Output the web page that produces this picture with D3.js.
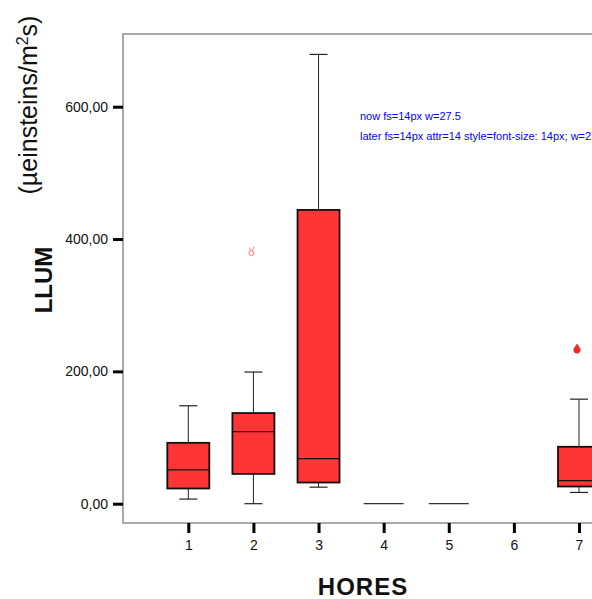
<!DOCTYPE html>
<html>
<head>
<meta charset="utf-8">
<script src="https://cdn.jsdelivr.net/npm/d3@7"></script>
<style>
  html, body { margin: 0; padding: 0; background: #fff; }
  svg { display: block; font-family: Arial, "Liberation Sans", sans-serif; }
</style>
</head>
<body>
<div id="chart"></div>
<script>
// box plot stats per hour
const hours = [1, 2, 3, 4, 5, 6, 7];
const whiskerLow = [7, 0, 25, 0, 0, null, 17];
const q1 = [23, 45, 32, 0, 0, null, 26];
const median = [51, 109, 68, 0, 0, null, 35];
const q3 = [92, 137, 444, 0, 0, null, 86];
const whiskerHigh = [148, 199, 679, 0, 0, null, 158];

const outlierHours = [2, 7];
const outlierValues = [381, 236];
const outlierKinds = ["extreme", "outlier"];

const yTicks = [0, 200, 400, 600];

/** Graph configs */
const frame = { left: 123, top: 34, right: 660, bottom: 523 };
const boxWidth = 42;
const capWidth = 18;
const boxFill = "#ff3434";

const svg = d3
  .select("#chart")
  .append("svg")
  .attr("width", 592)
  .attr("height", 599);

const xScale = d3.scaleLinear().domain([1, 7]).range([188.3, 579]);
const yScale = d3.scaleLinear().domain([0, 600]).range([503.7, 106.7]);

const locale = d3.formatLocale({ decimal: ",", thousands: ".", grouping: [3], currency: ["", ""] });
const fmt = locale.format(".2f");

// frame
svg
  .append("rect")
  .attr("x", frame.left)
  .attr("y", frame.top)
  .attr("width", frame.right - frame.left)
  .attr("height", frame.bottom - frame.top)
  .attr("fill", "none")
  .attr("stroke", "#8e8e8e")
  .attr("stroke-width", 1.5);

// y axis
const yAxis = svg
  .append("g")
  .attr("transform", `translate(${frame.left},0)`)
  .call(d3.axisLeft(yScale).tickValues(yTicks).tickFormat(fmt).tickSize(10).tickPadding(5));
yAxis.select(".domain").remove();
yAxis.selectAll(".tick line").attr("stroke-width", 3);
yAxis.selectAll(".tick text").attr("font-size", 14).style("font-size", "14px").attr("fill", "#111");

// x axis
const xAxis = svg
  .append("g")
  .attr("transform", `translate(0,${frame.bottom})`)
  .call(d3.axisBottom(xScale).tickValues(hours).tickFormat((d) => String(d)).tickSize(10).tickPadding(7));
xAxis.select(".domain").remove();
xAxis.selectAll(".tick line").attr("stroke-width", 3);
xAxis.selectAll(".tick text").attr("font-size", 14).style("font-size", "14px").attr("fill", "#111");

// boxes
const data = hours
  .map((h, i) => ({
    h,
    lo: whiskerLow[i],
    q1: q1[i],
    med: median[i],
    q3: q3[i],
    hi: whiskerHigh[i],
  }))
  .filter((d) => d.med !== null);

const boxLayer = svg.append("g");

data.forEach((d) => {
  const cx = xScale(d.h);
  if (d.hi > d.lo) {
    boxLayer.append("line")
      .attr("x1", cx).attr("x2", cx)
      .attr("y1", yScale(d.hi)).attr("y2", yScale(d.lo))
      .attr("stroke", "#222").attr("stroke-width", 1);
    [d.hi, d.lo].forEach((v) => {
      boxLayer.append("line")
        .attr("x1", cx - capWidth / 2).attr("x2", cx + capWidth / 2)
        .attr("y1", yScale(v)).attr("y2", yScale(v))
        .attr("stroke", "#222").attr("stroke-width", 1.2);
    });
  }
  if (d.q3 > d.q1) {
    boxLayer.append("rect")
      .attr("x", cx - boxWidth / 2)
      .attr("y", yScale(d.q3))
      .attr("width", boxWidth)
      .attr("height", yScale(d.q1) - yScale(d.q3))
      .attr("fill", boxFill)
      .attr("stroke", "#111")
      .attr("stroke-width", 1.8);
    boxLayer.append("line")
      .attr("x1", cx - boxWidth / 2).attr("x2", cx + boxWidth / 2)
      .attr("y1", yScale(d.med)).attr("y2", yScale(d.med))
      .attr("stroke", "#111").attr("stroke-width", 1.2);
  } else {
    // collapsed box
    boxLayer.append("line")
      .attr("x1", cx - 20).attr("x2", cx + 20)
      .attr("y1", yScale(d.med)).attr("y2", yScale(d.med))
      .attr("stroke", "#333").attr("stroke-width", 1.2);
  }
});

// outliers
outlierHours.forEach((h, i) => {
  const cx = xScale(h) - 2;
  const cy = yScale(outlierValues[i]);
  if (outlierKinds[i] === "outlier") {
    svg.append("path")
      .attr("d", `M${cx},${cy - 4} L${cx + 3.3},${cy + 1} A3.6,3.6 0 1 1 ${cx - 3.3},${cy + 1} Z`)
      .attr("fill", "#f02a2a");
  } else {
    svg.append("circle")
      .attr("cx", cx).attr("cy", cy + 1.5).attr("r", 2.4)
      .attr("fill", "none").attr("stroke", "#f7a0a0").attr("stroke-width", 1.3);
    svg.append("path")
      .attr("d", `M${cx - 2},${cy - 4} L${cx - 0.5},${cy - 0.5} M${cx + 1},${cy - 0.5} L${cx + 2.5},${cy - 5}`)
      .attr("fill", "none").attr("stroke", "#f7a0a0").attr("stroke-width", 1.2);
  }
});

// titles
svg.append("text")
  .attr("x", 363)
  .attr("y", 595)
  .attr("text-anchor", "middle")
  .attr("font-size", 24)
  .attr("font-weight", "bold")
  .attr("letter-spacing", 1)
  .attr("fill", "#111")
  .text("HORES");

svg.append("text")
  .attr("transform", "translate(52,280) rotate(-90)")
  .attr("text-anchor", "middle")
  .attr("font-size", 24)
  .attr("font-weight", "bold")
  .attr("fill", "#111")
  .text("LLUM");

const units = svg.append("text")
  .attr("transform", "translate(37,105) rotate(-90)")
  .attr("text-anchor", "middle")
  .attr("font-size", 25)
  .attr("fill", "#111");
units.append("tspan").text("(µeinsteins/m");
units.append("tspan").attr("dy", -9).attr("font-size", 16).text("2");
units.append("tspan").attr("dy", 9).text("s)");

// temporary debug readout
const probe = yAxis.select(".tick text").node();
const dbg = svg.append("text").attr("x", 360).attr("y", 120).attr("font-size", 11).attr("fill", "blue");
dbg.text("now fs=" + getComputedStyle(probe).fontSize + " w=" + probe.getBBox().width.toFixed(1));
const dbg2 = svg.append("text").attr("x", 360).attr("y", 140).attr("font-size", 11).attr("fill", "blue");
setTimeout(() => {
  dbg2.text("later fs=" + getComputedStyle(probe).fontSize + " attr=" + probe.getAttribute("font-size") +
    " style=" + probe.getAttribute("style") + " w=" + probe.getBBox().width.toFixed(1));
}, 300);
</script>
</body>
</html>
